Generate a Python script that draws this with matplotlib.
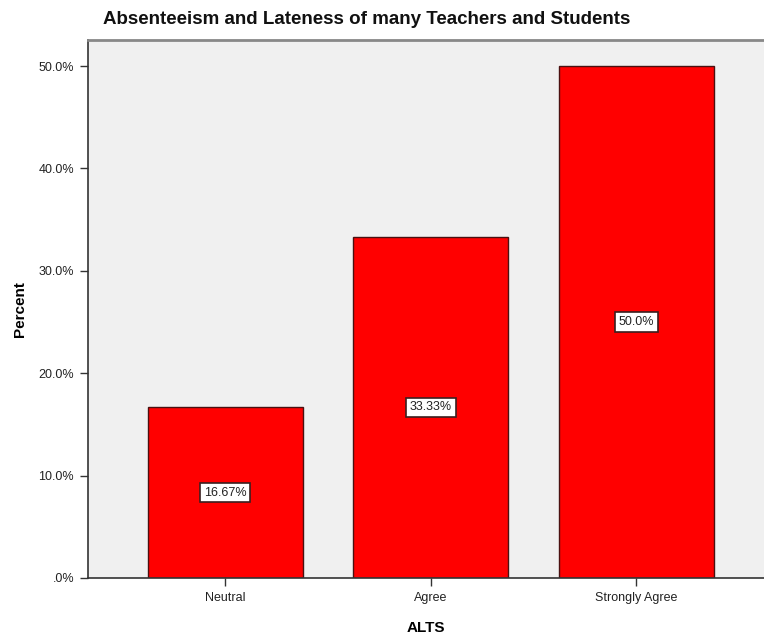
import matplotlib.pyplot as plt

plt.rcParams['font.family'] = ['Liberation Sans', 'DejaVu Sans']

categories = ['Neutral', 'Agree', 'Strongly Agree']
percents = [16.67, 33.33, 50.0]
bar_labels = ['16.67%', '33.33%', '50.0%']

fig = plt.figure(figsize=(7.64, 6.36), dpi=100)
ax = fig.add_axes([88/764, 1-578/636, 1-88/764, (578-40)/636])
ax.set_facecolor('#f0f0f0')

x = range(len(categories))
ax.bar(x, percents, width=0.755, color='#ff0000', edgecolor='#4a1010', linewidth=1)

# value boxes at half bar height
for xi, v, lab in zip(x, percents, bar_labels):
    ax.text(xi, v / 2, lab, ha='center', va='center', fontsize=9, color='#222222',
            bbox=dict(boxstyle='square,pad=0.3', fc='white', ec='#3a2020', lw=1.2))

ax.set_xlim(-0.667, 2.62)
ax.set_ylim(0, 52.54)
ax.set_xticks(list(x))
ax.set_xticklabels(categories, fontsize=9, color='#222222')
ax.set_yticks([0, 10, 20, 30, 40, 50])
ax.set_yticklabels(['.0%', '10.0%', '20.0%', '30.0%', '40.0%', '50.0%'], fontsize=9, color='#222222')
ax.tick_params(axis='both', direction='out', length=6, width=1, color='#333333', pad=4)

for side in ['left', 'bottom']:
    ax.spines[side].set_color('#333333')
    ax.spines[side].set_linewidth(1.2)
ax.spines['top'].set_color('#888888')
ax.spines['top'].set_linewidth(2)
ax.spines['right'].set_visible(False)

ax.set_ylabel('Percent', fontsize=11, fontweight='bold', labelpad=8)
ax.set_xlabel('ALTS', fontsize=11, fontweight='bold', labelpad=12)
fig.text(103/764, 1-20/636, 'Absenteeism and Lateness of many Teachers and Students',
         ha='left', va='center', fontsize=13.5, fontweight='bold', color='#111111')

fig.savefig('out.png', dpi=100)
